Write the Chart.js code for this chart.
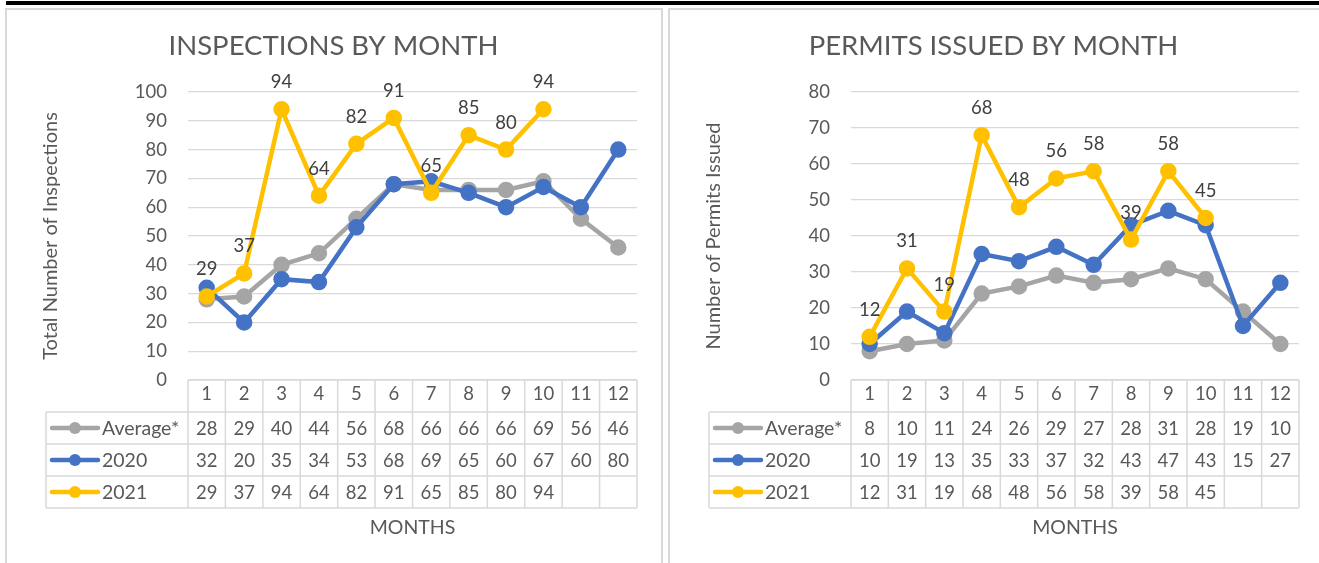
<!DOCTYPE html>
<html>
<head>
<meta charset="utf-8">
<script src="https://cdn.jsdelivr.net/npm/chart.js@4.4.1/dist/chart.umd.min.js"></script>
<style>
  html, body { margin: 0; padding: 0; background: #fff; width: 1319px; height: 563px; overflow: hidden; position: relative; }
  #bar { position: absolute; left: 6px; top: 1px; width: 1313px; height: 4px; background: #000; }
  .panel { position: absolute; top: 8px; height: 600px; border: 2px solid #D9D9D9; box-sizing: border-box; }
  #p1 { left: 5px; width: 658px; }
  #p2 { left: 668px; width: 700px; }
  canvas { position: absolute; }
  #c1 { left: 5px; top: 8px; }
  #c2 { left: 668px; top: 8px; }
</style>
</head>
<body>
<div id="bar"></div>
<div class="panel" id="p1"></div>
<div class="panel" id="p2"></div>
<canvas id="c1" width="657" height="555"></canvas>
<canvas id="c2" width="651" height="555"></canvas>
<script>
// ---- data ----
const months = ['1','2','3','4','5','6','7','8','9','10','11','12'];
const seriesNames = ['Average*', '2020', '2021'];
const inspAvg  = [28, 29, 40, 44, 56, 68, 66, 66, 66, 69, 56, 46];
const insp2020 = [32, 20, 35, 34, 53, 68, 69, 65, 60, 67, 60, 80];
const insp2021 = [29, 37, 94, 64, 82, 91, 65, 85, 80, 94, null, null];
const permAvg  = [8, 10, 11, 24, 26, 29, 27, 28, 31, 28, 19, 10];
const perm2020 = [10, 19, 13, 35, 33, 37, 32, 43, 47, 43, 15, 27];
const perm2021 = [12, 31, 19, 68, 48, 56, 58, 39, 58, 45, null, null];
const inspTicks = [0, 100, 10];
const permTicks = [0, 80, 10];

const COLORS = ['#A5A5A5', '#4472C4', '#FFC000'];
const FONT = 'Lato, "Open Sans", sans-serif';
const TXT = '#595959';
const FS = 18.5;

Chart.defaults.font.family = FONT;
Chart.defaults.color = TXT;

const tablePlugin = {
  id: 'dataTable',
  afterDraw(chart) {
    const ctx = chart.ctx;
    const ca = chart.chartArea;
    const labels = chart.data.labels;
    const n = labels.length;
    const colW = (ca.right - ca.left) / n;
    const rowH = 32;
    const legendLeft = ca.left - 142;
    const top = ca.bottom;
    const ds = chart.data.datasets;
    const rowsBottom = top + rowH * (1 + ds.length);
    ctx.save();
    ctx.strokeStyle = '#D9D9D9';
    ctx.lineWidth = 1.5;
    ctx.beginPath();
    ctx.moveTo(ca.left, top); ctx.lineTo(ca.right, top);
    for (let r = 1; r <= ds.length + 1; r++) {
      const y = top + r * rowH;
      ctx.moveTo(legendLeft, y); ctx.lineTo(ca.right, y);
    }
    for (let i = 0; i <= n; i++) {
      const x = ca.left + i * colW;
      ctx.moveTo(x, top); ctx.lineTo(x, rowsBottom);
    }
    ctx.moveTo(legendLeft, top + rowH); ctx.lineTo(legendLeft, rowsBottom);
    ctx.stroke();

    ctx.textBaseline = 'middle';
    ds.forEach((d, r) => {
      const cy = top + rowH * (r + 1) + rowH / 2;
      ctx.strokeStyle = d.borderColor;
      ctx.lineWidth = 4.5;
      ctx.lineCap = 'round';
      ctx.beginPath();
      ctx.moveTo(legendLeft + 6, cy); ctx.lineTo(legendLeft + 52, cy);
      ctx.stroke();
      ctx.fillStyle = d.borderColor;
      ctx.beginPath();
      ctx.arc(legendLeft + 29, cy, 6, 0, Math.PI * 2);
      ctx.fill();
      ctx.fillStyle = TXT;
      ctx.font = '19.5px ' + FONT;
      ctx.textAlign = 'left';
      ctx.fillText(d.label, legendLeft + 56, cy + 1);
      ctx.font = FS + 'px ' + FONT;
      ctx.textAlign = 'center';
      d.data.forEach((v, i) => {
        if (v === null || v === undefined) return;
        ctx.fillText(String(v), ca.left + (i + 0.5) * colW, cy + 1);
      });
    });
    ctx.restore();
  }
};

const labelPlugin = {
  id: 'pointLabels',
  afterDatasetsDraw(chart) {
    const ctx = chart.ctx;
    chart.data.datasets.forEach((d, di) => {
      if (!d.showLabels) return;
      const meta = chart.getDatasetMeta(di);
      ctx.save();
      ctx.font = FS + 'px ' + FONT;
      ctx.fillStyle = '#404040';
      ctx.textAlign = 'center';
      ctx.textBaseline = 'middle';
      meta.data.forEach((pt, i) => {
        const v = d.data[i];
        if (v === null || v === undefined) return;
        ctx.fillText(String(v), pt.x, pt.y - 27);
      });
      ctx.restore();
    });
  }
};

function makeChart(id, title, yTitle, avg, s2020, s2021, ticks, padRight) {
  const mk = (label, data, color, order, showLabels) => ({
    label, data, borderColor: color, backgroundColor: color,
    pointBackgroundColor: color, pointBorderColor: color,
    borderWidth: 4.5, pointRadius: 6, pointHoverRadius: 6,
    tension: 0, order, showLabels, spanGaps: false
  });
  return new Chart(document.getElementById(id), {
    type: 'line',
    data: {
      labels: months,
      datasets: [
        mk(seriesNames[0], avg, COLORS[0], 3, false),
        mk(seriesNames[1], s2020, COLORS[1], 2, false),
        mk(seriesNames[2], s2021, COLORS[2], 1, true)
      ]
    },
    options: {
      responsive: false,
      animation: false,
      devicePixelRatio: 1,
      layout: { padding: 0 },
      plugins: {
        legend: { display: false },
        tooltip: { enabled: false },
        title: {
          display: true, text: title, color: TXT,
          font: { size: 27.5, weight: 'normal', family: FONT },
          padding: { top: 21.5, bottom: 29.5 }
        }
      },
      scales: {
        x: {
          type: 'category',
          offset: true,
          grid: { display: false, drawTicks: false },
          border: { display: false },
          ticks: { padding: 3, font: { size: FS }, color: TXT, maxRotation: 0, autoSkip: false },
          title: { display: true, text: 'MONTHS', color: TXT, font: { size: 19.5 }, padding: { top: 4, bottom: 24 } },
          afterFit(s) { s.height = 183; }
        },
        y: {
          min: ticks[0], max: ticks[1],
          grid: { color: '#D9D9D9', lineWidth: 1.3, drawTicks: false },
          border: { display: false },
          ticks: { stepSize: ticks[2], padding: 21, font: { size: FS }, color: TXT },
          title: { display: true, text: yTitle, color: TXT, font: { size: 20 }, padding: { top: 34, bottom: 0 } },
          afterFit(s) { s.width = 183; }
        },
        yRight: {
          position: 'right',
          display: true,
          min: ticks[0], max: ticks[1],
          grid: { display: false, drawTicks: false },
          border: { display: false },
          ticks: { display: false },
          afterFit(s) { s.width = padRight; }
        }
      }
    },
    plugins: [tablePlugin, labelPlugin]
  });
}

makeChart('c1', 'INSPECTIONS BY MONTH', 'Total Number of Inspections', inspAvg, insp2020, insp2021, inspTicks, 25);
makeChart('c2', 'PERMITS ISSUED BY MONTH', 'Number of Permits Issued', permAvg, perm2020, perm2021, permTicks, 20);
</script>
</body>
</html>
